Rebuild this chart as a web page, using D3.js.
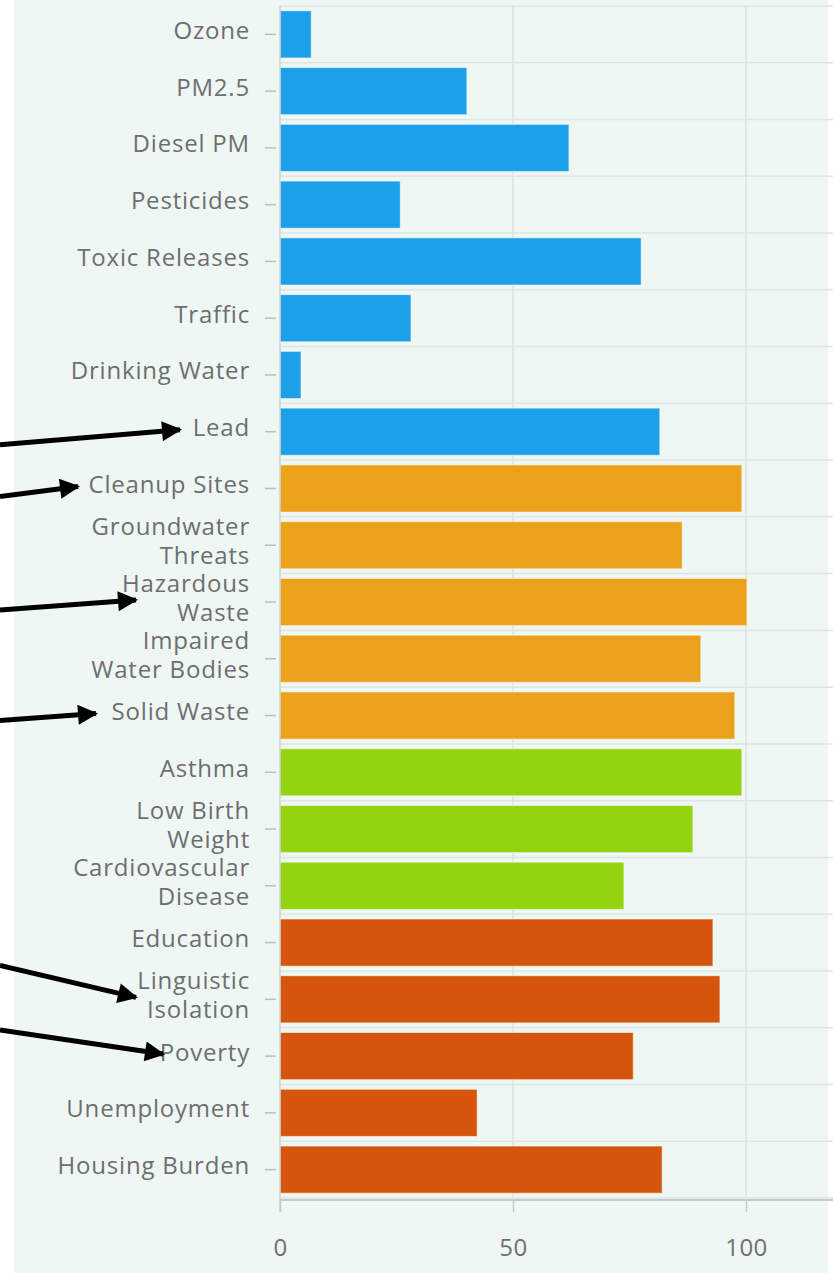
<!DOCTYPE html>
<html>
<head>
    <meta charset="utf-8">
    <title>Indicators</title>
</head>
<style>
    body { margin: 0; background: #fff; }
    svg { display: block; }
</style>
<body>
<svg width="833" height="1273"></svg>
<script src="https://d3js.org/d3.v7.min.js" charset="utf-8"></script>
<script>

    // data
    var categories = ['Ozone', 'PM2.5', 'Diesel PM', 'Pesticides', 'Toxic Releases', 'Traffic',
        'Drinking Water', 'Lead', 'Cleanup Sites', 'Groundwater\nThreats', 'Hazardous\nWaste',
        'Impaired\nWater Bodies', 'Solid Waste', 'Asthma', 'Low Birth\nWeight', 'Cardiovascular\nDisease',
        'Education', 'Linguistic\nIsolation', 'Poverty', 'Unemployment', 'Housing Burden'];
    var values = [6.7, 40.1, 62, 25.8, 77.5, 28.1, 4.5, 81.5, 99.1, 86.3, 100.2, 90.3, 97.6,
        99.1, 88.6, 73.8, 92.9, 94.4, 75.8, 42.3, 82.0];
    var groups = ['exposure', 'exposure', 'exposure', 'exposure', 'exposure', 'exposure', 'exposure', 'exposure',
        'environment', 'environment', 'environment', 'environment', 'environment',
        'sensitive', 'sensitive', 'sensitive',
        'socio', 'socio', 'socio', 'socio', 'socio'];
    var groupNames = ['exposure', 'environment', 'sensitive', 'socio'];
    var groupColors = ['#1ca0ea', '#eba11a', '#93d30f', '#d4550b'];
    var xTicks = [0, 50, 100];

    // arrows pointing at some labels: category, tip x, start y offset from the tip
    var arrows = [
        {cat: 'Lead', tip: 180, dy: 15},
        {cat: 'Cleanup Sites', tip: 78, dy: 10},
        {cat: 'Hazardous\nWaste', tip: 136, dy: 10},
        {cat: 'Solid Waste', tip: 96, dy: 7},
        {cat: 'Linguistic\nIsolation', tip: 136, dy: -32},
        {cat: 'Poverty', tip: 163, dy: -24}
    ];

    var mLeft = 280, mRight = 833, mTop = 6, mBottom = 1198;
    var labelFont = '"Open Sans", sans-serif';

    var svg = d3.select('svg');

    svg.append('rect')
        .attr('x', 14).attr('y', 0)
        .attr('width', 814).attr('height', 1273)
        .attr('fill', '#eff7f4');

    var x = d3.scaleLinear().domain([0, 100]).range([mLeft, 746]);
    var y = d3.scaleBand().domain(categories).range([mTop, mBottom]).paddingInner(0.17).paddingOuter(0.085);
    var color = d3.scaleOrdinal().domain(groupNames).range(groupColors);

    var step = y.step();

    // horizontal grid at band borders
    var borders = d3.range(categories.length + 1).map(function (i) { return mTop + i * step; });
    svg.append('g').selectAll('line')
        .data(borders)
        .enter().append('line')
        .attr('x1', mLeft).attr('x2', mRight)
        .attr('y1', function (d) { return d; })
        .attr('y2', function (d) { return d; })
        .attr('stroke', '#dfe5e3')
        .attr('stroke-width', 1.5);

    // vertical grid
    svg.append('g').selectAll('line')
        .data(xTicks.filter(function (d) { return d > 0; }))
        .enter().append('line')
        .attr('x1', function (d) { return x(d); })
        .attr('x2', function (d) { return x(d); })
        .attr('y1', mTop).attr('y2', mBottom)
        .attr('stroke', '#dce2e0')
        .attr('stroke-width', 1.5);

    // bars
    svg.append('g').selectAll('rect')
        .data(categories)
        .enter().append('rect')
        .attr('x', x(0))
        .attr('y', function (d) { return y(d); })
        .attr('width', function (d, i) { return x(values[i]) - x(0); })
        .attr('height', y.bandwidth())
        .attr('fill', function (d, i) { return color(groups[i]); })
        .attr('stroke', '#ffffff')
        .attr('stroke-opacity', 0.5)
        .attr('stroke-width', 1);

    // left axis line
    svg.append('line')
        .attr('x1', mLeft).attr('x2', mLeft)
        .attr('y1', mTop).attr('y2', mBottom + 14)
        .attr('stroke', '#ccd3d1').attr('stroke-width', 1.5);

    // bottom axis
    var xAxis = svg.append('g')
        .attr('transform', 'translate(0,' + (mBottom + 2) + ')')
        .call(d3.axisBottom(x).tickValues(xTicks).tickSize(12).tickPadding(27));
    xAxis.select('.domain').attr('stroke', '#c3cac8').attr('stroke-width', 2)
        .attr('d', 'M' + mLeft + ',0H' + mRight);
    xAxis.selectAll('.tick line').attr('stroke', '#c3cac8').attr('stroke-width', 1.5);
    xAxis.selectAll('.tick text')
        .attr('fill', '#707070')
        .attr('font-family', labelFont)
        .attr('font-size', 24)
        .attr('letter-spacing', 0.5);

    // category ticks and labels
    var yg = svg.append('g');
    yg.selectAll('line')
        .data(categories)
        .enter().append('line')
        .attr('x1', 265).attr('x2', 276)
        .attr('y1', function (d) { return y(d) + y.bandwidth() / 2; })
        .attr('y2', function (d) { return y(d) + y.bandwidth() / 2; })
        .attr('stroke', '#b9c0be').attr('stroke-width', 1.5);

    var labels = yg.selectAll('text')
        .data(categories)
        .enter().append('text')
        .attr('text-anchor', 'end')
        .attr('fill', '#6e6e6e')
        .attr('font-family', labelFont)
        .attr('font-size', 24)
        .attr('letter-spacing', 0.8)
        .attr('transform', function (d) { return 'translate(250,' + (y(d) + y.bandwidth() / 2 - 4) + ')'; });

    labels.each(function (d) {
        var lines = d.split('\n');
        var t = d3.select(this);
        lines.forEach(function (line, i) {
            t.append('tspan')
                .attr('x', 0)
                .attr('y', (i - (lines.length - 1) / 2) * 29)
                .attr('dy', '0.35em')
                .text(line);
        });
    });

    // arrows
    var defs = svg.append('defs');
    defs.append('marker')
        .attr('id', 'head')
        .attr('viewBox', '0 0 10 10')
        .attr('refX', 9).attr('refY', 5)
        .attr('markerWidth', 4.5).attr('markerHeight', 4)
        .attr('markerUnits', 'strokeWidth')
        .attr('orient', 'auto')
        .append('path')
        .attr('d', 'M0,0 L10,5 L0,10 z')
        .attr('fill', '#000');

    svg.append('g').selectAll('line')
        .data(arrows)
        .enter().append('line')
        .attr('x1', 0)
        .attr('y1', function (d) { return y(d.cat) + y.bandwidth() / 2 - 2 + d.dy; })
        .attr('x2', function (d) { return d.tip; })
        .attr('y2', function (d) { return y(d.cat) + y.bandwidth() / 2 - 2; })
        .attr('stroke', '#000')
        .attr('stroke-width', 5)
        .attr('marker-end', 'url(#head)');

</script>
</body>
</html>
